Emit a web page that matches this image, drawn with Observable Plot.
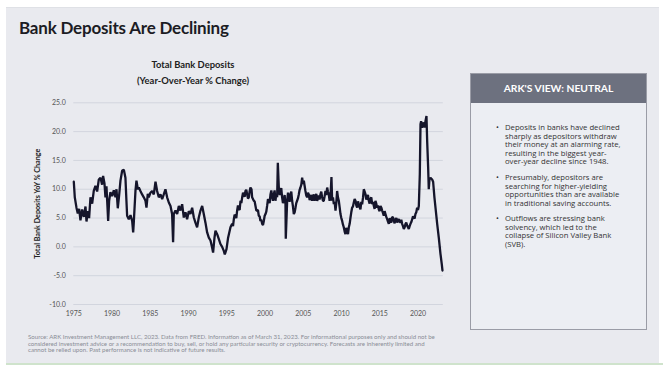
<!DOCTYPE html>
<html>
<head>
<meta charset="utf-8">
<script src="https://cdn.jsdelivr.net/npm/d3@7"></script>
<script src="https://cdn.jsdelivr.net/npm/@observablehq/plot@0.6"></script>
<style>
  html, body { margin: 0; padding: 0; background: #ffffff; }
  body { width: 663px; height: 372px; position: relative; overflow: hidden; font-family: Lato, "Open Sans", sans-serif; }
  #panel { position: absolute; left: 6px; top: 7px; width: 653px; height: 356px; background: #e9eaef; border-top: 1px solid #dfe1e6; }
  #green { position: absolute; left: 6px; top: 363px; width: 657px; height: 2px; background: #cfe3cc; }
  #title { position: absolute; left: 19px; top: 17px; font-size: 17px; font-weight: 700; color: #1c1c24; white-space: nowrap; letter-spacing: -0.2px; }
  .ctitle { position: absolute; width: 200px; left: 93px; text-align: center; font-size: 9.4px; font-weight: 700; color: #222; }
  #chart { position: absolute; left: 20px; top: 90px; }
  #box { position: absolute; left: 470px; top: 73px; width: 175px; height: 255px; border: 1px solid #9a9ca6; background: #eceef3; }
  #boxhead { height: 29px; background: #6d717f; color: #fff; font-weight: 700; font-size: 10.3px; text-align: center; line-height: 29px; }
  .bul { position: absolute; left: 34px; font-family: "Open Sans", sans-serif; font-size: 7.7px; line-height: 8.5px; color: #333; white-space: nowrap; }
  .bul::before { content: "•"; position: absolute; left: -9px; top: 0; }
  #foot { position: absolute; left: 28px; top: 334px; font-size: 6.1px; line-height: 6.6px; color: #8a8d96; white-space: nowrap; }
</style>
</head>
<body>
<div id="panel"></div>
<div id="green"></div>
<div id="title">Bank Deposits Are Declining</div>
<div class="ctitle" style="top:59px">Total Bank Deposits</div>
<div class="ctitle" style="top:75px">(Year-Over-Year % Change)</div>
<div id="chart"></div>
<div id="box">
  <div id="boxhead">ARK'S VIEW: NEUTRAL</div>
  <div class="bul" style="top:49px">Deposits in banks have declined<br>sharply as depositors withdraw<br>their money at an alarming rate,<br>resulting in the biggest year-<br>over-year decline since 1948.</div>
  <div class="bul" style="top:99px">Presumably, depositors are<br>searching for higher-yielding<br>opportunities than are available<br>in traditional saving accounts.</div>
  <div class="bul" style="top:140px">Outflows are stressing bank<br>solvency, which led to the<br>collapse of Silicon Valley Bank<br>(SVB).</div>
</div>
<div id="foot">Source: ARK Investment Management LLC, 2023. Data from FRED. Information as of March 31, 2023. For informational purposes only and should not be<br>considered investment advice or a recommendation to buy, sell, or hold any particular security or cryptocurrency. Forecasts are inherently limited and<br>cannot be relied upon. Past performance is not indicative of future results.</div>
<script>
// [year, YoY % change]
const yoyChange = [
  [1975.00,11.3],[1975.13,8.6],[1975.35,6.8],[1975.52,5.8],[1975.70,6.6],[1975.87,4.6],[1976.09,6.5],[1976.31,5.2],
  [1976.53,7.0],[1976.66,4.4],[1976.83,6.2],[1977.00,5.0],[1977.18,8.6],[1977.40,7.5],[1977.61,9.7],[1977.83,10.6],
  [1978.05,9.6],[1978.27,11.7],[1978.49,12.0],[1978.70,10.8],[1978.83,12.3],[1979.01,11.0],[1979.14,8.6],[1979.27,10.5],
  [1979.40,7.0],[1979.49,4.5],[1979.62,8.0],[1979.79,9.5],[1980.01,8.8],[1980.23,9.8],[1980.45,8.6],[1980.58,10.0],
  [1980.75,6.7],[1980.93,9.0],[1981.10,11.5],[1981.32,13.2],[1981.54,13.4],[1981.75,12.0],[1981.88,8.0],[1981.97,5.4],
  [1982.19,4.8],[1982.41,5.5],[1982.63,4.5],[1982.76,2.5],[1982.84,4.2],[1983.06,9.7],[1983.19,11.5],[1983.37,10.0],
  [1983.50,10.3],[1983.71,9.7],[1983.93,9.1],[1984.15,8.6],[1984.37,8.0],[1984.50,6.8],[1984.67,9.2],[1984.80,8.6],
  [1985.02,9.4],[1985.24,9.7],[1985.46,9.1],[1985.68,11.3],[1985.89,9.7],[1986.11,8.6],[1986.33,9.1],[1986.55,8.3],
  [1986.76,9.1],[1986.98,10.0],[1987.20,8.6],[1987.42,7.7],[1987.64,7.1],[1987.85,5.7],[1987.98,0.8],[1988.07,5.7],
  [1988.29,6.3],[1988.51,5.7],[1988.73,7.1],[1988.94,6.3],[1989.16,7.4],[1989.38,5.1],[1989.60,6.0],[1989.81,4.8],
  [1990.03,6.2],[1990.25,5.7],[1990.47,6.8],[1990.69,5.1],[1990.90,4.2],[1991.12,3.4],[1991.34,5.1],[1991.56,6.3],
  [1991.78,7.1],[1991.99,5.7],[1992.21,4.2],[1992.43,2.5],[1992.65,1.6],[1992.87,1.1],[1993.08,-0.1],[1993.21,-1.0],
  [1993.39,1.6],[1993.52,2.8],[1993.74,2.2],[1993.95,1.4],[1994.17,0.5],[1994.39,0.0],[1994.61,-0.7],[1994.74,-1.3],
  [1994.96,-0.4],[1995.17,1.6],[1995.48,3.4],[1995.70,4.0],[1995.81,3.6],[1995.92,4.8],[1996.02,5.6],[1996.13,5.4],
  [1996.24,5.0],[1996.35,6.3],[1996.46,7.2],[1996.57,6.6],[1996.68,6.4],[1996.79,8.0],[1996.90,7.6],[1997.01,8.6],
  [1997.12,9.4],[1997.22,9.1],[1997.33,8.7],[1997.44,9.7],[1997.55,9.9],[1997.66,9.1],[1997.77,8.4],[1997.88,8.6],
  [1997.98,9.6],[1998.09,10.3],[1998.23,10.0],[1998.31,8.6],[1998.53,8.0],[1998.64,7.9],[1998.75,7.1],[1998.86,6.3],
  [1998.97,6.3],[1999.07,6.4],[1999.18,5.4],[1999.29,5.3],[1999.40,4.5],[1999.51,4.7],[1999.62,4.0],[1999.73,3.8],
  [1999.84,4.5],[1999.95,5.4],[2000.06,5.7],[2000.16,6.1],[2000.27,7.1],[2000.38,8.3],[2000.49,8.0],[2000.60,7.6],
  [2000.71,9.1],[2000.82,9.8],[2000.93,8.6],[2001.03,8.0],[2001.14,9.1],[2001.25,9.8],[2001.36,8.0],[2001.47,9.2],
  [2001.58,8.6],[2001.67,14.6],[2001.80,10.3],[2001.91,9.0],[2002.02,9.7],[2002.12,10.2],[2002.23,8.6],[2002.34,7.6],
  [2002.45,8.0],[2002.56,9.0],[2002.67,7.4],[2002.71,1.4],[2002.89,8.0],[2003.00,9.4],[2003.11,8.6],[2003.21,7.8],
  [2003.32,9.1],[2003.43,9.6],[2003.54,8.0],[2003.65,7.0],[2003.76,5.7],[2003.87,6.0],[2003.98,6.8],[2004.08,7.6],
  [2004.19,8.0],[2004.30,8.4],[2004.41,9.1],[2004.52,9.9],[2004.63,10.3],[2004.74,10.8],[2004.85,12.0],[2004.96,10.9],
  [2005.07,11.5],[2005.17,10.6],[2005.28,9.7],[2005.39,8.9],[2005.50,8.6],[2005.61,9.4],[2005.72,9.1],[2005.83,8.1],
  [2005.94,8.6],[2006.05,9.0],[2006.16,8.0],[2006.26,8.6],[2006.37,9.1],[2006.48,8.0],[2006.59,8.6],[2006.70,9.2],
  [2006.81,8.0],[2006.92,8.4],[2007.03,8.9],[2007.13,8.2],[2007.24,9.1],[2007.35,9.6],[2007.46,8.6],[2007.57,8.0],
  [2007.68,8.0],[2007.79,8.8],[2007.90,9.7],[2008.01,9.0],[2008.12,10.3],[2008.22,9.6],[2008.33,9.1],[2008.44,8.0],
  [2008.55,8.6],[2008.68,12.1],[2008.77,8.0],[2008.88,8.6],[2008.99,7.4],[2009.10,7.8],[2009.21,6.3],[2009.31,7.6],
  [2009.42,9.7],[2009.53,8.6],[2009.64,8.0],[2009.75,6.9],[2009.86,5.7],[2009.97,5.0],[2010.08,4.5],[2010.18,3.9],
  [2010.29,3.4],[2010.40,2.7],[2010.51,2.2],[2010.62,3.3],[2010.73,2.8],[2010.84,2.2],[2010.95,3.4],[2011.06,4.0],
  [2011.17,5.1],[2011.27,6.0],[2011.38,6.8],[2011.49,7.0],[2011.60,7.7],[2011.71,8.3],[2011.82,8.0],[2011.93,7.2],
  [2012.04,6.8],[2012.15,7.9],[2012.26,7.4],[2012.36,6.9],[2012.47,6.5],[2012.58,7.8],[2012.69,7.4],[2012.80,8.5],
  [2012.91,10.0],[2013.02,9.6],[2013.13,9.1],[2013.23,8.2],[2013.34,8.6],[2013.45,9.0],[2013.56,8.0],[2013.67,7.5],
  [2013.78,8.3],[2013.89,8.6],[2014.00,7.4],[2014.11,7.8],[2014.22,7.1],[2014.32,6.6],[2014.43,8.0],[2014.54,7.5],
  [2014.65,6.8],[2014.76,7.2],[2014.87,6.5],[2014.98,6.2],[2015.09,7.1],[2015.20,6.8],[2015.31,6.3],[2015.41,5.9],
  [2015.52,5.4],[2015.63,6.2],[2015.74,5.7],[2015.85,5.2],[2015.96,4.8],[2016.07,4.4],[2016.18,4.0],[2016.29,5.0],
  [2016.40,4.5],[2016.50,4.2],[2016.61,5.1],[2016.72,5.2],[2016.83,4.5],[2016.94,4.1],[2017.05,4.8],[2017.16,5.0],
  [2017.27,4.2],[2017.37,4.6],[2017.48,4.8],[2017.59,4.4],[2017.70,4.2],[2017.81,4.7],[2017.92,4.0],[2018.03,3.6],
  [2018.14,3.1],[2018.25,3.4],[2018.36,4.0],[2018.46,4.2],[2018.57,3.7],[2018.68,3.4],[2018.79,3.1],[2018.90,3.6],
  [2019.01,4.0],[2019.12,4.3],[2019.23,4.8],[2019.34,5.3],[2019.45,5.1],[2019.55,4.9],[2019.66,5.7],[2019.77,6.0],
  [2019.88,6.8],[2019.99,6.4],[2020.10,7.1],[2020.23,12.6],[2020.32,21.3],[2020.40,21.8],[2020.53,20.7],[2020.75,21.6],
  [2020.88,20.7],[2020.97,21.8],[2021.10,22.7],[2021.19,18.4],[2021.32,13.8],[2021.40,10.0],[2021.49,11.7],[2021.62,12.0],
  [2021.84,11.7],[2021.97,11.3],[2022.14,8.6],[2022.32,6.3],[2022.50,4.0],[2022.71,1.6],[2022.93,-1.2],[2023.10,-3.0],
  [2023.19,-4.1]
];
const yTicks = [-10, -5, 0, 5, 10, 15, 20, 25];
const xTicks = [1975, 1980, 1985, 1990, 1995, 2000, 2005, 2010, 2015, 2020];
const yLabel = "Total Bank Deposits YoY % Change";

const data = yoyChange.map(([t, v]) => ({t, v}));

const chart = Plot.plot({
  width: 430,
  height: 232,
  marginLeft: 53.3,
  marginRight: 7.2,
  marginTop: 12.3,
  marginBottom: 18,
  style: { background: "transparent", fontFamily: "Lato, 'Open Sans', sans-serif", fontSize: "7px", color: "#555" },
  x: { domain: [1975, 2023.3], label: null },
  y: { domain: [-10, 25], label: yLabel },
  marks: [
    Plot.gridY(yTicks, { stroke: "#d2d5de", strokeOpacity: 1, strokeWidth: 1 }),
    Plot.axisX({ ticks: xTicks, tickFormat: d => String(d), tickSize: 0, tickPadding: 7, label: null, fill: "#555" }),
    Plot.axisY({ ticks: yTicks, tickFormat: d => d.toFixed(1), tickSize: 0, tickPadding: 8, label: null, fill: "#555" }),
    Plot.axisY({ ticks: [], tickSize: 0, label: yLabel, labelAnchor: "center", labelArrow: "none", labelOffset: 39, fill: "#222", fontWeight: 700, fontSize: 7.2 }),
    Plot.line(data, { x: "t", y: "v", stroke: "#15152b", strokeWidth: 2.3, strokeLinejoin: "miter" })
  ]
});
document.getElementById("chart").appendChild(chart);
</script>
</body>
</html>
